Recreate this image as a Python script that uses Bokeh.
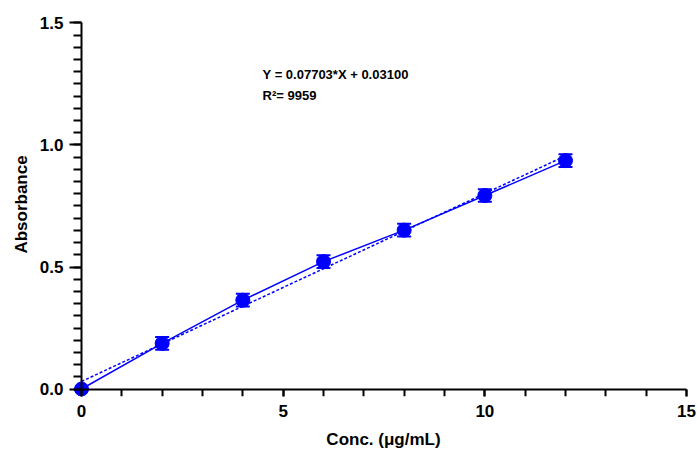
from bokeh.plotting import figure
from bokeh.models import (ColumnDataSource, Range1d, SingleIntervalTicker,
                          NumeralTickFormatter, Whisker, TeeHead, Label, LinearAxis)
from bokeh.embed import file_html
from bokeh.resources import INLINE

# ---- data ----
conc = [0, 2, 4, 6, 8, 10, 12]
absorbance = [0.000, 0.187, 0.364, 0.522, 0.651, 0.793, 0.936]
err = [0.0, 0.026, 0.026, 0.026, 0.026, 0.026, 0.026]
slope = 0.07703
intercept = 0.03100
fit_x = [0, 12]
eq_text = "Y = 0.07703*X + 0.03100"
r2_text = "R\u00b2= 9959"
x_label = "Conc. (\u03bcg/mL)"
y_label = "Absorbance"
x_ticks_interval = 5
y_ticks_interval = 0.5

BLUE = "#0000ff"
FONT = "Liberation Sans"

W, H = 697, 451
# frame placement (pixels) and data->pixel anchors
left_b, right_b, top_b, bottom_b = 69, 0, 12, 54
x0_px, x15_px = 81.0, 686.0
y0_px, y15_px = 389.5, 22.5
fw = W - left_b - right_b
fh = H - top_b - bottom_b
xs = (x15_px - x0_px) / 15.0
ys = (y0_px - y15_px) / 1.5
x_start = -(x0_px - left_b) / xs
x_end = x_start + fw / xs
y_end = 1.5 + (y15_px - top_b) / ys
y_start = y_end - fh / ys

p = figure(width=W, height=H, output_backend="svg", toolbar_location=None,
           x_range=Range1d(x_start, x_end), y_range=Range1d(y_start, y_end),
           min_border_left=left_b, min_border_right=right_b,
           min_border_top=top_b, min_border_bottom=bottom_b,
           x_axis_type=None, y_axis_type=None)
p.outline_line_color = None
p.grid.visible = False
p.background_fill_color = "white"
p.border_fill_color = "white"

fit_y = [slope * x + intercept for x in fit_x]
src = ColumnDataSource(dict(x=conc, y=absorbance,
                            lo=[a - e for a, e in zip(absorbance, err)],
                            hi=[a + e for a, e in zip(absorbance, err)]))

p.line(fit_x, fit_y, line_color=BLUE, line_width=1.5, line_dash="3 2")
p.line("x", "y", source=src, line_color=BLUE, line_width=1.5)
wh = Whisker(source=src, base="x", upper="hi", lower="lo",
             line_color=BLUE, line_width=2,
             upper_head=TeeHead(size=14, line_color=BLUE, line_width=2),
             lower_head=TeeHead(size=14, line_color=BLUE, line_width=2))
p.add_layout(wh)
p.scatter("x", "y", source=src, size=14, fill_color=BLUE, line_color=BLUE)

def xticker():
    return SingleIntervalTicker(interval=x_ticks_interval, num_minor_ticks=5)

def yticker():
    return SingleIntervalTicker(interval=y_ticks_interval, num_minor_ticks=10)

# --- axes drawn through the data origin: lines and ticks only ---
x_line_ax = LinearAxis(ticker=xticker(), fixed_location=0, bounds=(0, 15),
                       major_label_overrides={0: "", 5: "", 10: "", 15: ""})
y_line_ax = LinearAxis(ticker=yticker(), fixed_location=0, bounds=(0, 1.5),
                       major_label_overrides={0: "", 0.5: "", 1: "", 1.5: ""})
for ax, tout, mout in ((x_line_ax, 13, 7), (y_line_ax, 15, 8)):
    ax.axis_line_width = 2
    ax.axis_line_color = "black"
    ax.major_tick_line_width = 2
    ax.minor_tick_line_width = 2
    ax.major_tick_in = 0
    ax.minor_tick_in = 0
    ax.major_tick_out = tout
    ax.minor_tick_out = mout
    ax.major_label_text_font_size = "0px"
p.add_layout(x_line_ax, "below")
p.add_layout(y_line_ax, "left")

# --- axes at the frame edges carrying tick labels and titles ---
x_lab_ax = LinearAxis(ticker=xticker(), bounds=(0, 15), axis_label=x_label)
y_lab_ax = LinearAxis(ticker=yticker(), bounds=(0, 1.5), axis_label=y_label,
                      formatter=NumeralTickFormatter(format="0.0"))
for ax in (x_lab_ax, y_lab_ax):
    ax.axis_line_color = None
    ax.major_tick_line_color = None
    ax.minor_tick_line_color = None
    ax.major_tick_in = 0
    ax.major_tick_out = 0
    ax.minor_tick_in = 0
    ax.minor_tick_out = 0
    ax.major_label_text_font = FONT
    ax.major_label_text_font_style = "bold"
    ax.major_label_text_font_size = "17px"
    ax.major_label_text_color = "black"
    ax.axis_label_text_font = FONT
    ax.axis_label_text_font_style = "bold"
    ax.axis_label_text_font_size = "17px"
    ax.axis_label_text_color = "black"
x_lab_ax.major_label_standoff = 8
x_lab_ax.axis_label_standoff = 10
y_lab_ax.major_label_standoff = 6
y_lab_ax.axis_label_standoff = 6
p.add_layout(x_lab_ax, "below")
p.add_layout(y_lab_ax, "left")

p.add_layout(Label(x=4.49, y=1.287, text=eq_text, text_font=FONT,
                   text_font_style="bold", text_font_size="13px",
                   text_color="black", text_baseline="alphabetic"))
p.add_layout(Label(x=4.49, y=1.203, text=r2_text, text_font=FONT,
                   text_font_style="bold", text_font_size="13px",
                   text_color="black", text_baseline="alphabetic"))

open("out.html", "w").write(file_html(p, INLINE))
